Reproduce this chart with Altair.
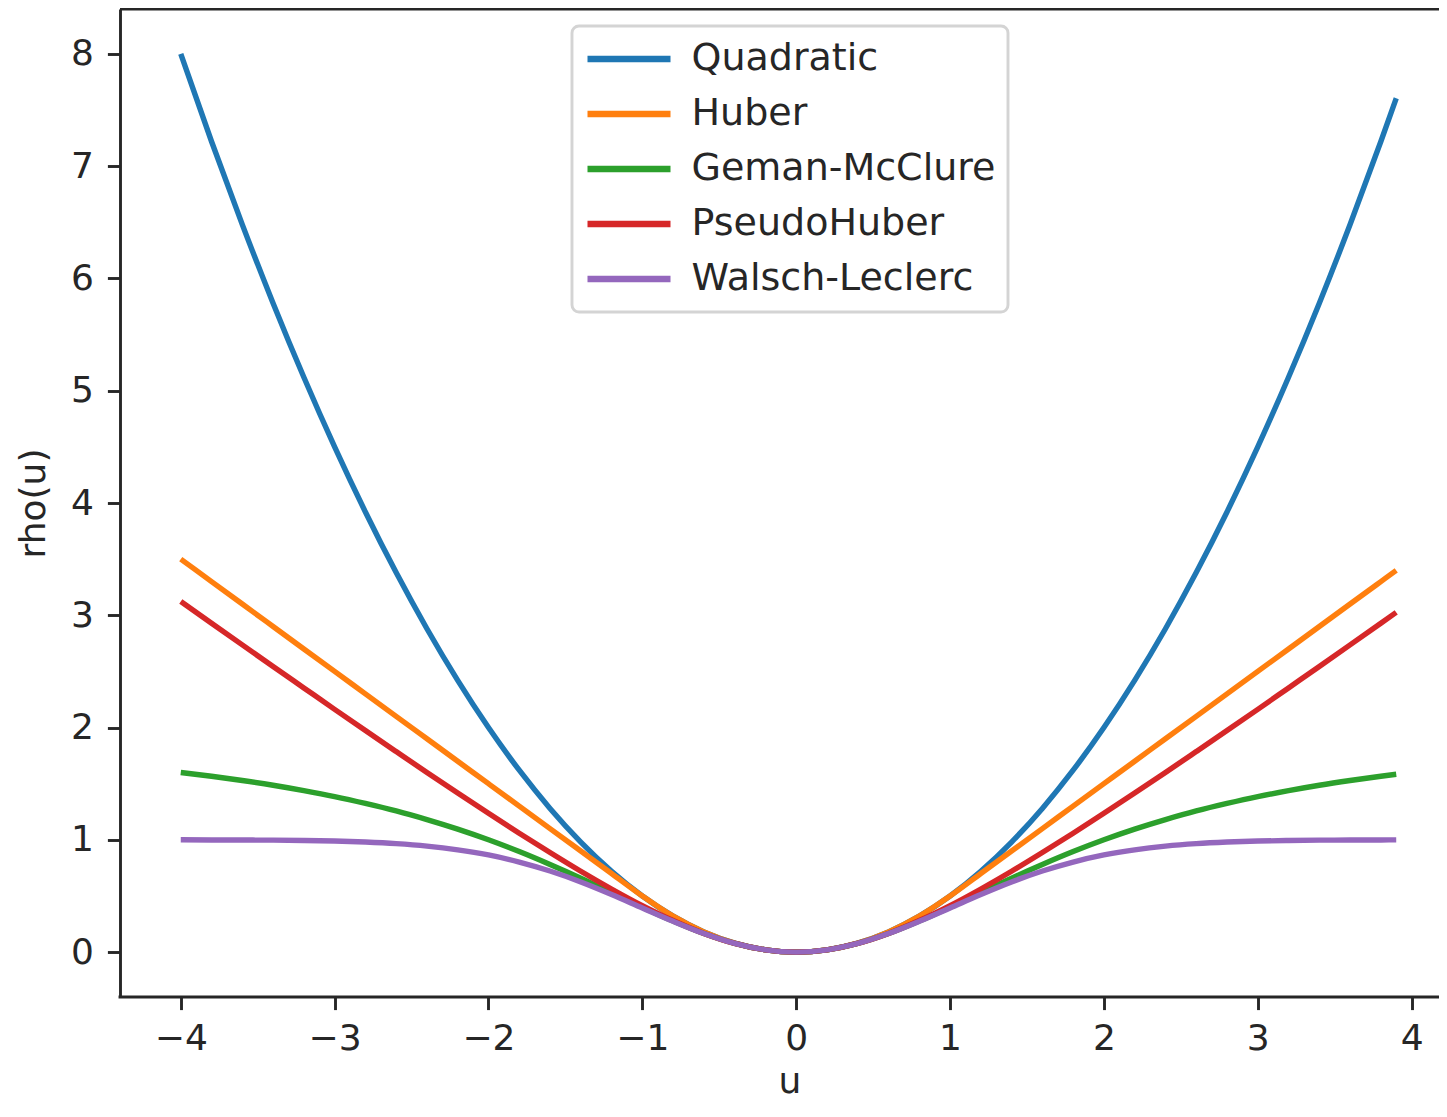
import altair as alt
import pandas as pd

u_values = [-4.0, -3.8, -3.6, -3.4, -3.2, -3.0, -2.8, -2.6, -2.4, -2.2, -2.0,
            -1.8, -1.6, -1.4, -1.2, -1.0, -0.8, -0.6, -0.4, -0.2, 0.0,
            0.2, 0.4, 0.6, 0.8, 1.0, 1.2, 1.4, 1.6, 1.8, 2.0,
            2.2, 2.4, 2.6, 2.8, 3.0, 3.2, 3.4, 3.6, 3.8, 3.9]

quadratic = [8.0, 7.22, 6.48, 5.78, 5.12, 4.5, 3.92, 3.38, 2.88, 2.42, 2.0,
             1.62, 1.28, 0.98, 0.72, 0.5, 0.32, 0.18, 0.08, 0.02, 0.0,
             0.02, 0.08, 0.18, 0.32, 0.5, 0.72, 0.98, 1.28, 1.62, 2.0,
             2.42, 2.88, 3.38, 3.92, 4.5, 5.12, 5.78, 6.48, 7.22, 7.605]

huber = [3.5, 3.3, 3.1, 2.9, 2.7, 2.5, 2.3, 2.1, 1.9, 1.7, 1.5,
         1.3, 1.1, 0.9, 0.7, 0.5, 0.32, 0.18, 0.08, 0.02, 0.0,
         0.02, 0.08, 0.18, 0.32, 0.5, 0.7, 0.9, 1.1, 1.3, 1.5,
         1.7, 1.9, 2.1, 2.3, 2.5, 2.7, 2.9, 3.1, 3.3, 3.4]

geman_mcclure = [1.6, 1.566, 1.528, 1.486, 1.438, 1.385, 1.324, 1.257, 1.180, 1.095, 1.0,
                 0.895, 0.780, 0.658, 0.529, 0.4, 0.276, 0.165, 0.077, 0.020, 0.0,
                 0.020, 0.077, 0.165, 0.276, 0.4, 0.529, 0.658, 0.780, 0.895, 1.0,
                 1.095, 1.180, 1.257, 1.324, 1.385, 1.438, 1.486, 1.528, 1.566, 1.584]

pseudo_huber = [3.123, 2.929, 2.736, 2.544, 2.353, 2.162, 1.973, 1.786, 1.6, 1.417, 1.236,
                1.059, 0.887, 0.720, 0.562, 0.414, 0.281, 0.166, 0.077, 0.020, 0.0,
                0.020, 0.077, 0.166, 0.281, 0.414, 0.562, 0.720, 0.887, 1.059, 1.236,
                1.417, 1.6, 1.786, 1.973, 2.162, 2.353, 2.544, 2.736, 2.929, 3.026]

walsch_leclerc = [1.0, 0.999, 0.998, 0.997, 0.994, 0.989, 0.980, 0.966, 0.944, 0.911, 0.865,
                  0.802, 0.722, 0.625, 0.513, 0.393, 0.274, 0.165, 0.077, 0.020, 0.0,
                  0.020, 0.077, 0.165, 0.274, 0.393, 0.513, 0.625, 0.722, 0.802, 0.865,
                  0.911, 0.944, 0.966, 0.980, 0.989, 0.994, 0.997, 0.998, 0.999, 0.9995]

series_names = ["Quadratic", "Huber", "Geman-McClure", "PseudoHuber", "Walsch-Leclerc"]
series_values = [quadratic, huber, geman_mcclure, pseudo_huber, walsch_leclerc]
series_colors = ["#1f77b4", "#ff7f0e", "#2ca02c", "#d62728", "#9467bd"]

x_ticks = [-4, -3, -2, -1, 0, 1, 2, 3, 4]
y_ticks = [0, 1, 2, 3, 4, 5, 6, 7, 8]

rows = []
for k, (name, vals) in enumerate(zip(series_names, series_values)):
    for i, (u, r) in enumerate(zip(u_values, vals)):
        rows.append({"u": u, "rho": r, "name": name, "k": k, "i": i})
df = pd.DataFrame(rows)

FONT = "DejaVu Sans"
INK = "#262626"
W, H = 1319, 988
SPINE = 2.9

lines = alt.Chart(df).mark_line(strokeWidth=5.4, interpolate="monotone").encode(
    x=alt.X("u:Q",
            scale=alt.Scale(domain=[-4.395, 4.178], nice=False, zero=False),
            axis=alt.Axis(values=x_ticks, format="d", title="u", domain=False,
                          titleX=669.5, titleY=95, titleBaseline="alphabetic",
                          titleAlign="center", labelPadding=12)),
    y=alt.Y("rho:Q",
            scale=alt.Scale(domain=[-0.4, 8.4], nice=False, zero=False),
            axis=alt.Axis(values=y_ticks, format="d", title="rho(u)",
                          titleX=-76, titleY=H / 2, titleAngle=270,
                          titleBaseline="alphabetic", titleAlign="center",
                          labelPadding=14)),
    color=alt.Color("name:N",
                    scale=alt.Scale(domain=series_names, range=series_colors),
                    legend=alt.Legend(title=None, orient="none", legendX=452, legendY=17,
                                      symbolType="stroke", symbolSize=6889,
                                      symbolStrokeWidth=6.5, symbolOffset=0,
                                      labelFontSize=38, labelFont=FONT, labelColor=INK,
                                      labelOffset=17.5, labelLimit=600, padding=12,
                                      clipHeight=42, rowPadding=13, fillColor="white",
                                      strokeColor="#d4d4d4", cornerRadius=7)),
    detail="k:O",
    order="i:Q",
)

spine_df = pd.DataFrame({"s": [0]})
top_spine = alt.Chart(spine_df).mark_rule(
    color=INK, strokeWidth=SPINE
).encode(x=alt.value(0), x2=alt.value(W), y=alt.value(0))
bottom_spine = alt.Chart(spine_df).mark_rule(
    color=INK, strokeWidth=SPINE
).encode(x=alt.value(-SPINE / 2), x2=alt.value(W), y=alt.value(H))

chart = alt.layer(lines, top_spine, bottom_spine).properties(
    width=W, height=H,
    autosize=alt.AutoSizeParams(type="none"),
    padding={"left": 112, "top": 1, "right": 0, "bottom": 105},
).configure_view(
    strokeWidth=0
).configure_axis(
    domain=True, domainColor=INK, domainWidth=SPINE, grid=False,
    tickColor=INK, tickWidth=SPINE, tickSize=12.6,
    labelFont=FONT, labelFontSize=36, labelColor=INK,
    titleFont=FONT, titleFontSize=36, titleFontWeight="normal", titleColor=INK,
).configure_legend(
    strokeWidth=SPINE
)

chart.save("out.html", embed_options={"renderer": "svg", "actions": False})
